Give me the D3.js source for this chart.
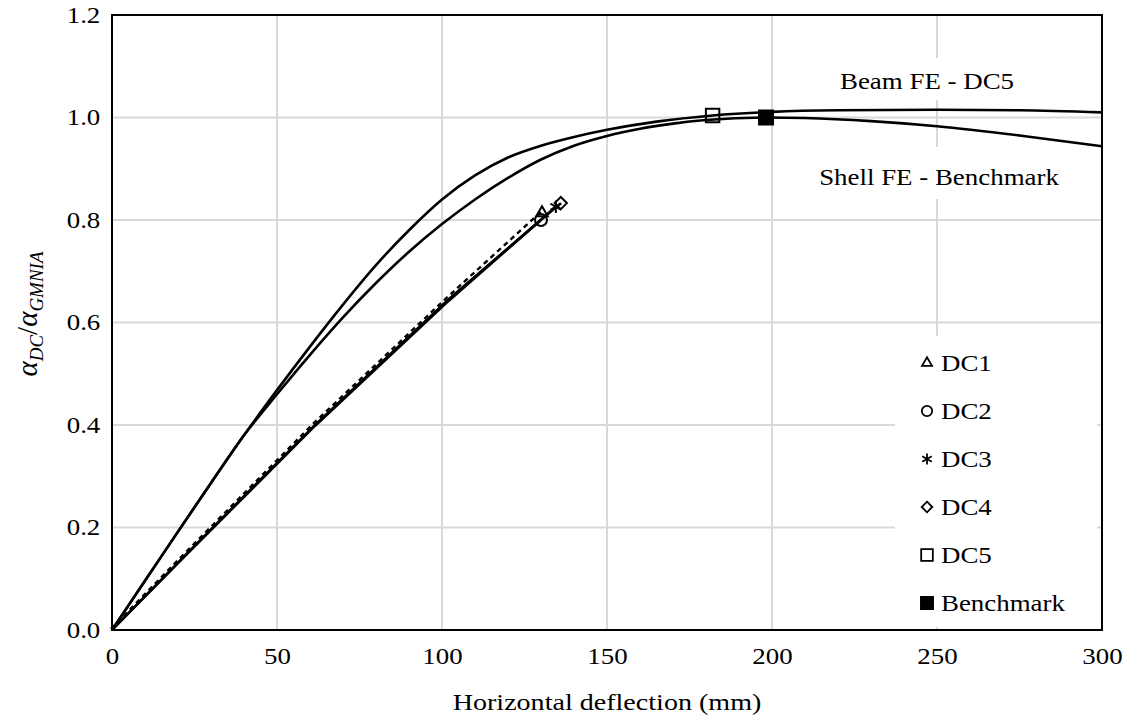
<!DOCTYPE html>
<html>
<head>
<meta charset="utf-8">
<script src="https://cdn.jsdelivr.net/npm/d3@7"></script>
<style>
    body { margin: 0; background: #fff; }
    text { font-family: "Liberation Serif", "Times New Roman", Tinos, "Nimbus Roman", "DejaVu Serif", serif; fill: #000; }
</style>
</head>
<body>
<svg id="chart" width="1130" height="724"></svg>
<script>
/***************************************************************
    Data
****************************************************************/
const xTicks = [0, 50, 100, 150, 200, 250, 300];
const yTicks = [0, 0.2, 0.4, 0.6, 0.8, 1.0, 1.2];

// Beam FE - DC5 curve [deflection mm, alpha ratio]
const beamFE = [[0, 0], [10, 0.096], [20, 0.192], [30, 0.287], [40, 0.38], [50, 0.468], [60, 0.553],
    [70, 0.635], [80, 0.712], [90, 0.78], [100, 0.84], [110, 0.887], [120, 0.922], [130, 0.945],
    [140, 0.962], [150, 0.976], [165, 0.992], [182, 1.004], [200, 1.011], [220, 1.014],
    [250, 1.015], [275, 1.014], [300, 1.010]];

// Shell FE - Benchmark curve
const shellFE = [[0, 0], [10, 0.096], [20, 0.192], [30, 0.287], [40, 0.38], [50, 0.46], [60, 0.537],
    [70, 0.61], [80, 0.677], [90, 0.738], [100, 0.792], [110, 0.84], [120, 0.882], [130, 0.918],
    [140, 0.945], [150, 0.964], [160, 0.978], [170, 0.988], [180, 0.995], [198, 1.0], [210, 0.999],
    [230, 0.993], [250, 0.983], [275, 0.965], [300, 0.944]];

// design-check lines from the origin
const dc1 = [[0, 0], [21, 0.139], [61.5, 0.402], [102, 0.648], [130.3, 0.814]];
const dc2 = [[0, 0], [21, 0.137], [61.5, 0.398], [102, 0.642], [130, 0.80]];
const dc3 = [[0, 0], [21, 0.138], [61.5, 0.40], [102, 0.645], [134.5, 0.826]];
const dc4 = [[0, 0], [21, 0.138], [61.5, 0.40], [102, 0.645], [136, 0.833]];

// end markers
const dc5Point = [182, 1.004];
const benchmarkPoint = [198.2, 1.0];

const legendNames = ["DC1", "DC2", "DC3", "DC4", "DC5", "Benchmark"];

/***************************************************************
    Layout
****************************************************************/
const svg = d3.select("#chart");
const plotLeft = 112, plotRight = 1102, plotTop = 15, plotBottom = 630;
const fontSize = 23, stretch = 1.17; // the source picture is a bit wider than tall

const x = d3.scaleLinear().domain([0, 300]).range([plotLeft, plotRight]);
const y = d3.scaleLinear().domain([0, 1.2]).range([plotBottom, plotTop]);

const line = d3.line().x(d => x(d[0])).y(d => y(d[1]));
const smooth = d3.line().x(d => x(d[0])).y(d => y(d[1])).curve(d3.curveMonotoneX);

function addText(px, py, str, size) {
    return svg.append("text")
        .attr("transform", `translate(${px},${py}) scale(${stretch},1)`)
        .attr("text-anchor", "middle").attr("font-size", size || fontSize).text(str);
}

/***************************************************************
    Grid + axes
****************************************************************/
const grid = svg.append("g");
grid.selectAll("line.v").data(xTicks.slice(1, -1)).enter().append("line")
    .attr("x1", d => x(d)).attr("x2", d => x(d)).attr("y1", plotTop).attr("y2", plotBottom)
    .attr("stroke", "#d9d9d9").attr("stroke-width", 2);
grid.selectAll("line.h").data(yTicks.slice(1, -1)).enter().append("line")
    .attr("x1", plotLeft).attr("x2", plotRight).attr("y1", d => y(d)).attr("y2", d => y(d))
    .attr("stroke", "#d9d9d9").attr("stroke-width", 2);

// white boxes behind labels and legend
svg.append("rect").attr("x", 830).attr("y", 58).attr("width", 200).attr("height", 42).attr("fill", "#fff");
svg.append("rect").attr("x", 808).attr("y", 147).attr("width", 262).attr("height", 52).attr("fill", "#fff");
svg.append("rect").attr("x", 895).attr("y", 336).attr("width", 202).attr("height", 291).attr("fill", "#fff");

const xAxis = svg.append("g").attr("transform", `translate(0,${plotBottom})`)
    .call(d3.axisBottom(x).tickValues(xTicks).tickSize(0).tickPadding(18).tickFormat(d3.format("d")));
const yAxis = svg.append("g").attr("transform", `translate(${plotLeft},0)`)
    .call(d3.axisLeft(y).tickValues(yTicks).tickSize(0).tickPadding(10).tickFormat(d3.format(".1f")));
[xAxis, yAxis].forEach(a => {
    a.select(".domain").remove();
    a.attr("font-family", null);
    a.selectAll("text").attr("font-size", fontSize).attr("transform", `scale(${stretch},1)`);
});

// frame
svg.append("rect").attr("x", plotLeft).attr("y", plotTop).attr("width", plotRight - plotLeft).attr("height", plotBottom - plotTop)
    .attr("fill", "none").attr("stroke", "#000").attr("stroke-width", 2);

/***************************************************************
    Series
****************************************************************/
const series = svg.append("g").attr("fill", "none").attr("stroke", "#000");
series.append("path").attr("d", smooth(beamFE)).attr("stroke-width", 2.6);
series.append("path").attr("d", smooth(shellFE)).attr("stroke-width", 2.6);
series.append("path").attr("d", line(dc2)).attr("stroke-width", 2.4);
series.append("path").attr("d", line(dc3)).attr("stroke-width", 2.4);
series.append("path").attr("d", line(dc4)).attr("stroke-width", 2.4);
series.append("path").attr("d", line(dc1)).attr("stroke-width", 2.4).attr("stroke-dasharray", "5,4")
    .attr("transform", "translate(-1,-1)");

const symbols = [
    { s: d3.symbolTriangle2, size: 95, fill: "none" },
    { s: d3.symbolCircle, size: 113, fill: "none" },
    { s: d3.symbolAsterisk, size: 110, fill: "none" },
    { s: d3.symbolDiamond2, size: 95, fill: "none" },
    { s: d3.symbolSquare2, size: 230, fill: "none" },
    { s: d3.symbolSquare, size: 196, fill: "#000" }
];
const markerPoints = [dc1[dc1.length - 1], dc2[dc2.length - 1], dc3[dc3.length - 1], dc4[dc4.length - 1], dc5Point, benchmarkPoint];

svg.append("g").selectAll("path").data(markerPoints).enter().append("path")
    .attr("transform", d => `translate(${x(d[0])},${y(d[1])})`)
    .attr("d", (d, i) => d3.symbol(symbols[i].s, symbols[i].size)())
    .attr("fill", (d, i) => symbols[i].fill)
    .attr("stroke", "#000").attr("stroke-width", 2);

/***************************************************************
    Labels + legend
****************************************************************/
addText(927, 89, "Beam FE - DC5");
addText(939, 185, "Shell FE - Benchmark");

const legend = svg.append("g").selectAll("g").data(legendNames).enter().append("g")
    .attr("transform", (d, i) => `translate(927,${363 + i * 48})`);
legend.append("path")
    .attr("d", (d, i) => d3.symbol(symbols[i].s, symbols[i].size * 0.75)())
    .attr("fill", (d, i) => symbols[i].fill)
    .attr("stroke", "#000").attr("stroke-width", 1.8);
legend.append("text").attr("transform", `translate(14,8) scale(${stretch},1)`)
    .attr("font-size", fontSize).text(d => d);

addText(x(150), 710, "Horizontal deflection (mm)", 24);

const yLabel = svg.append("text").attr("transform", `translate(37,314) rotate(-90)`)
    .attr("text-anchor", "middle").attr("font-size", 29).attr("font-style", "italic");
yLabel.append("tspan").text("α");
yLabel.append("tspan").attr("font-size", 19).attr("dy", 6).text("DC");
yLabel.append("tspan").attr("dy", -6).attr("font-style", "normal").text("/");
yLabel.append("tspan").text("α");
yLabel.append("tspan").attr("font-size", 19).attr("dy", 6).text("GMNIA");
</script>
</body>
</html>
